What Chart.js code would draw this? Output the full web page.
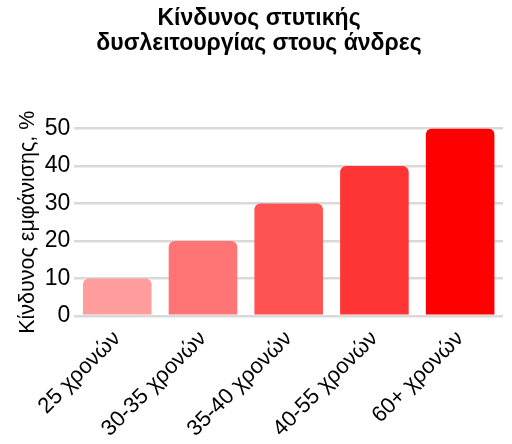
<!DOCTYPE html>
<html><head><meta charset="utf-8">
<script src="https://cdn.jsdelivr.net/npm/chart.js@4"></script>
<style>html,body{margin:0;padding:0;background:#fff}#wrap{width:512px;height:444px}</style>
</head><body><div id="wrap"><canvas id="c" width="512" height="444"></canvas></div>
<script>
const categories = ["25 χρονών", "30-35 χρονών", "35-40 χρονών", "40-55 χρονών", "60+ χρονών"];
const riskValues = [10, 20, 30, 40, 50];
const barColors = ["#ff9d9d", "#ff7474", "#ff5353", "#ff3535", "#ff0000"];
const titleLines = ["Κίνδυνος στυτικής", "δυσλειτουργίας στους άνδρες"];
const yTitle = "Κίνδυνος εμφάνισης, %";

new Chart(document.getElementById('c'), {
  type: 'bar',
  data: {
    labels: categories,
    datasets: [{
      data: riskValues,
      backgroundColor: barColors,
      borderRadius: {topLeft: 6, topRight: 6, bottomLeft: 0, bottomRight: 0},
      borderSkipped: 'bottom',
      categoryPercentage: 0.8,
      barPercentage: 1.0
    }]
  },
  options: {
    responsive: false,
    animation: false,
    layout: {padding: {left: 15, right: 9, top: 0, bottom: 0}},
    plugins: {
      legend: {display: false},
      tooltip: {enabled: false},
      title: {
        display: true,
        text: titleLines,
        color: '#000',
        font: {family: 'Liberation Sans', size: 23, weight: 'bold', lineHeight: 1.1},
        padding: {top: 6, bottom: 72}
      }
    },
    scales: {
      y: {
        min: 0, max: 50,
        ticks: {stepSize: 10, color: '#000', font: {family: 'Liberation Sans', size: 23}, padding: 4},
        grid: {color: '#d9d9d9', lineWidth: 2.5, drawTicks: false},
        border: {display: false},
        title: {display: true, text: yTitle, color: '#000', font: {family: 'Liberation Sans', size: 21.5}, padding: {top: 0, bottom: 0}}
      },
      x: {
        afterFit: (s) => { s.paddingLeft = 0; s.paddingRight = 0; },
        ticks: {color: '#000', font: {family: 'Liberation Sans', size: 22}, maxRotation: 45, minRotation: 45, padding: 2},
        grid: {display: false},
        border: {display: false}
      }
    }
  }
});
</script></body></html>
